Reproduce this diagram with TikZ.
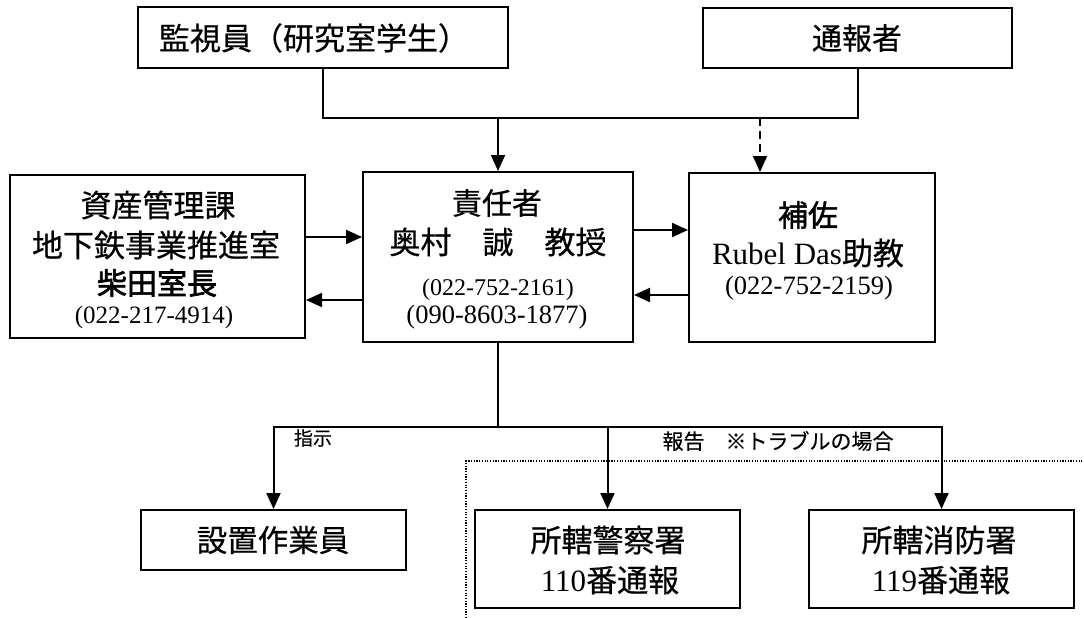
\documentclass[tikz,border=0pt]{standalone}
\usepackage{fontspec}
\setmainfont{Liberation Serif}
\newfontfamily\jp{Noto Sans CJK JP}[FakeBold=0.5]
\newfontfamily\jpb{Noto Sans CJK JP}[FakeBold=2.2]
\newfontfamily\jpm{Noto Sans CJK JP}[FakeBold=1.4]
\usetikzlibrary{arrows.meta}
\newcommand{\fs}[1]{\fontsize{#1}{#1}\selectfont}
\begin{document}
\begin{tikzpicture}[x=1pt,y=-1pt,
  box/.style={draw,line width=2pt,inner sep=0pt,minimum width=#1},
  txt/.style={inner sep=0pt,anchor=center},
  conn/.style={line width=2pt},
  arr/.style={line width=2pt,-{Triangle[length=16pt,width=14pt]}},
  dashedarr/.style={line width=1.6pt,dash pattern=on 8pt off 5pt,-{Triangle[length=16pt,width=14pt]}},
  dottedline/.style={line width=1.2pt,dash pattern=on 1.2pt off 1.5pt},
  lbl/.style={inner sep=0pt,font=\jp\fs{19}}]
\useasboundingbox (0,0) rectangle (1084,618);
\fill[white] (0,0) rectangle (1084,618);

% boxes
\node[box=370pt,minimum height=61pt] (kanshi) at (323,37.5) {};
\node[box=309pt,minimum height=60pt] (tsuho) at (857.5,38) {};
\node[box=295pt,minimum height=163pt] (shisan) at (157.5,256.5) {};
\node[box=270pt,minimum height=170pt] (sekinin) at (498,257) {};
\node[box=246pt,minimum height=169pt] (hosa) at (812,257.5) {};
\node[box=265pt,minimum height=60pt] (setchi) at (273.5,540) {};
\node[box=265pt,minimum height=98pt] (police) at (607.5,559) {};
\node[box=265pt,minimum height=98pt] (fire) at (941.5,559) {};

% texts
\node[txt] (t1) at (314,38) {\jp\fs{31}監視員（研究室学生）};
\node[txt] (t2) at (857,38) {\jp\fs{30}通報者};
\node[txt] (l1) at (158,205) {\jp\fs{31}資産管理課};
\node[txt] (l2) at (156,245) {\jp\fs{31}地下鉄事業推進室};
\node[txt] (l3) at (157,283) {\jpb\fs{30}柴田室長};
\node[txt] (l4) at (154,317) {\fs{25}(022-217-4914)};
\node[txt] (c1) at (497,203) {\jp\fs{30}責任者};
\node[txt] (c2) at (498,242) {\jp\fs{31}奥村　誠　教授};
\node[txt] (c3) at (498,290) {\fs{24}(022-752-2161)};
\node[txt] (c4) at (497,317) {\fs{26.5}(090-8603-1877)};
\node[txt] (r1) at (808,215) {\jpm\fs{30}補佐};
\node[txt] (r2) at (808,253) {\fs{31}Rubel Das{\jp 助教}};
\node[txt] (r3) at (809,288) {\fs{26.5}(022-752-2159)};
\node[txt] (b1) at (273,540) {\jp\fs{30.5}設置作業員};
\node[txt] (b2) at (608,540) {\jp\fs{31}所轄警察署};
\node[txt] (b3) at (610,580) {\fs{31}110{\jp 番通報}};
\node[txt] (b4) at (939,540) {\jp\fs{31}所轄消防署};
\node[txt] (b5) at (941,580) {\fs{31}119{\jp 番通報}};
\node[lbl] (s1) at (313,438) {指示};
\node[lbl,font=\jp\fs{21}] (s2) at (778,441) {報告　※トラブルの場合};

% coordinates
\coordinate (top) at (590,118);
\coordinate (j1) at (498,118);
\coordinate (j2) at (760,118);
\coordinate (bus) at (498,427);
\coordinate (ya) at (0,237);
\coordinate (yb) at (0,300);
\coordinate (yc) at (0,230);
\coordinate (yd) at (0,295);
\coordinate (d1) at (466,618);
\coordinate (d2) at (1084,461);

% connectors
\draw[conn] (kanshi.south) |- (top) -| (tsuho.south);
\draw[arr] (j1) -- (sekinin.north);
\draw[dashedarr] (j2) -- (j2 |- hosa.north);
\draw[arr] (shisan.east |- ya) -- (sekinin.west |- ya);
\draw[arr] (sekinin.west |- yb) -- (shisan.east |- yb);
\draw[arr] (sekinin.east |- yc) -- (hosa.west |- yc);
\draw[arr] (hosa.west |- yd) -- (sekinin.east |- yd);
\draw[conn] (sekinin.south) -- (bus);
\draw[arr] (bus) -| (setchi.north);
\draw[arr] (bus) -| (police.north);
\draw[arr] (bus) -| (fire.north);
\draw[dottedline] (d1) |- (d2);
\end{tikzpicture}
\end{document}
